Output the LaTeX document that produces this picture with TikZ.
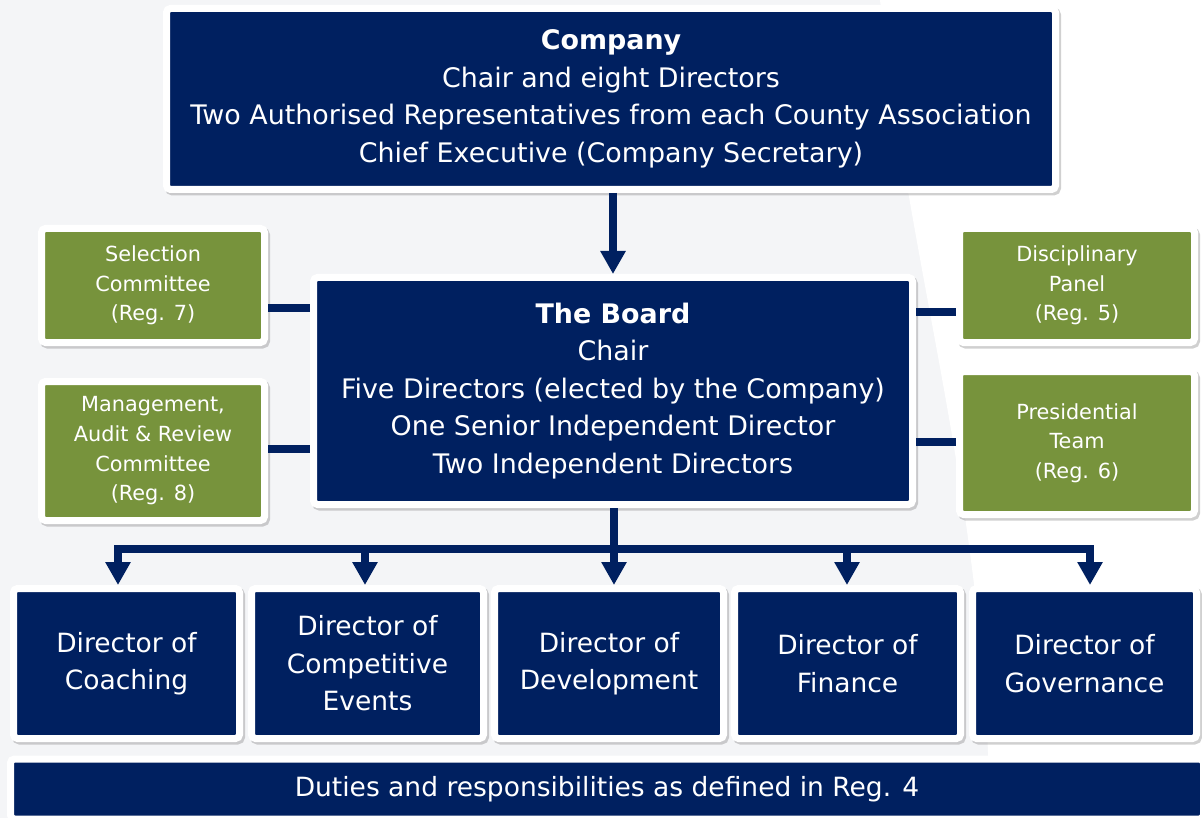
\documentclass[tikz,border=0pt]{standalone}
\usepackage{fontspec}
\setmainfont{DejaVu Sans}
\usetikzlibrary{shadows}
\usetikzlibrary{arrows.meta}
\definecolor{navy}{HTML}{002060}
\definecolor{boxgreen}{HTML}{77933C}
\definecolor{bggrey}{HTML}{F4F5F7}
\tikzstyle{box}=[draw=white,line width=7pt,rounded corners=4pt,inner sep=0pt,align=center,text=white,drop shadow={shadow xshift=2pt,shadow yshift=-2.5pt,opacity=.3,fill=black!60,draw=black!60,line width=7pt}]
\tikzstyle{navybox}=[box,fill=navy,font=\fontsize{26.9}{37.5}\selectfont]
\tikzstyle{greenbox}=[box,fill=boxgreen,font=\fontsize{20.8}{29.7}\selectfont]
\tikzstyle{director}=[navybox,font=\fontsize{26.5}{37.5}\selectfont,minimum height=150pt]
\tikzstyle{link}=[draw=navy,line width=8pt]
\tikzstyle{arrowlink}=[link,-{Triangle[width=24pt,length=23pt]}]
\begin{document}
\begin{tikzpicture}[x=1pt,y=-1pt]
    \useasboundingbox (0,0) rectangle (1202,818);
    % background
    \fill[bggrey] (0,0) rectangle (1202,818);
    \fill[white] (880,0) .. controls (915,300) and (985,500) .. (990,818) -- (1202,818) -- (1202,0) -- cycle;

    \node[navybox,minimum width=889pt,minimum height=181pt] (company) at (611,99)
        {\textbf{Company}\\Chair and eight Directors\\Two Authorised Representatives from each County Association\\Chief Executive (Company Secretary)};
    \node[navybox,minimum width=599pt,minimum height=227pt] (board) at (613,391)
        {\textbf{The Board}\\Chair\\Five Directors (elected by the Company)\\One Senior Independent Director\\Two Independent Directors};

    % committees and panels
    \node[greenbox,minimum width=223pt,minimum height=114pt] (sel) at (153,285.5) {Selection\\Committee\\(Reg. 7)};
    \node[greenbox,minimum width=223pt,minimum height=139pt] (mar) at (153,451) {Management,\\Audit \& Review\\Committee\\(Reg. 8)};
    \node[greenbox,minimum width=235pt,minimum height=114pt] (disc) at (1077,285.5) {Disciplinary\\Panel\\(Reg. 5)};
    \node[greenbox,minimum width=235pt,minimum height=143pt] (pres) at (1077,443) {Presidential\\Team\\(Reg. 6)};

    \foreach \y/\name in {308/sel, 449/mar}
        \path[link] (\name.east |- 0,\y) -- (board.west |- 0,\y);
    \foreach \y/\name in {312/disc, 442/pres}
        \path[link] (board.east |- 0,\y) -- (\name.west |- 0,\y);

    \path[arrowlink] (company.south -| board.north) -- (board);

    % directors
    \foreach \pos/\wid/\name/\txt in {{(126.5,663.5)/226/coach/{Director of\\Coaching}},
            {(367.5,663.5)/232/events/{Director of\\Competitive\\Events}},
            {(609,663.5)/229/devel/{Director of\\Development}},
            {(847.5,663.5)/226/finance/{Director of\\Finance}},
            {(1084.5,663.5)/224/gov/{Director of\\Governance}}}
        \node[director,minimum width=\wid pt] (\name) at \pos {\txt};

    \foreach \x/\name in {118/coach, 365/events, 614/devel, 847/finance, 1090/gov} {
        \coordinate (bar\name) at (\x,549);
        \path[arrowlink] (bar\name) -- (bar\name |- \name.north);
    }
    \path[link,line cap=rect] (barcoach) -- (bargov);
    \path[link] (board.south -| bardevel) -- (bardevel);

    \node[navybox,font=\fontsize{26.5}{30}\selectfont,minimum width=1193pt,minimum height=60pt] (duties) at (607,789)
        {Duties and responsibilities as defined in Reg. 4};
\end{tikzpicture}
\end{document}
